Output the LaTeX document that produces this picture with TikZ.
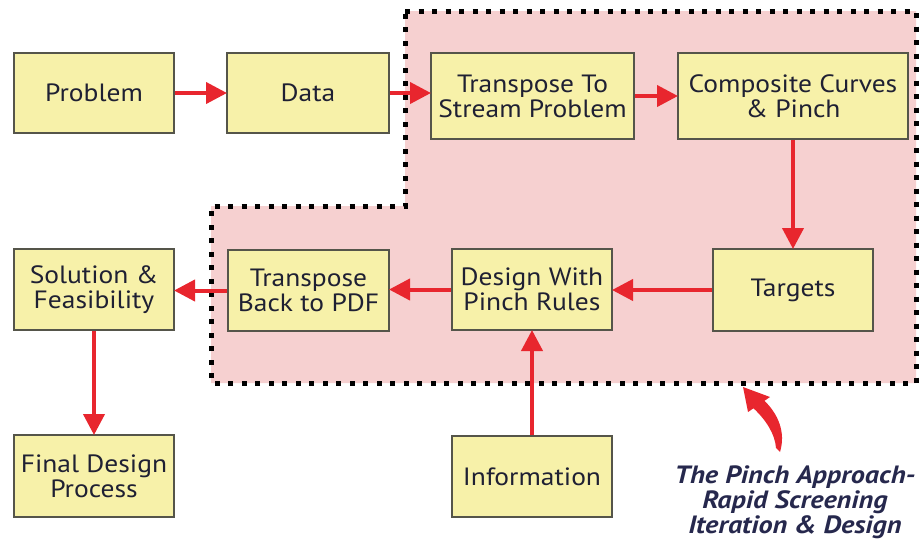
\documentclass[tikz,border=0pt]{standalone}
\usepackage{fontspec}
\setmainfont[FakeStretch=1.1]{PT Sans}
\newfontfamily\captionface[FakeStretch=1.13]{PT Sans}
\usetikzlibrary{arrows.meta}
\definecolor{boxfill}{HTML}{F7F1A9}
\definecolor{boxline}{HTML}{55554A}
\definecolor{ink}{HTML}{1F2033}
\definecolor{capink}{HTML}{26284D}
\definecolor{zonefill}{HTML}{F6D0D0}
\definecolor{flowred}{HTML}{E8262E}
\tikzset{
  stepbox/.style={draw=boxline, fill=boxfill, line width=2pt, text=ink,
    font=\fontsize{25}{25}\selectfont, align=center, inner sep=0pt},
  flow/.style={draw=flowred, line width=4pt,
    -{Triangle[length=21pt,width=21pt]}, shorten >=-1pt},
  zone/.style={fill=zonefill, draw=black, line width=5pt,
    dash pattern=on 5pt off 8.5pt},
}
\begin{document}
\begin{tikzpicture}[x=1pt,y=-1pt]
  \useasboundingbox (0,0) rectangle (920,542);

  % pinch-analysis zone
  \path[zone] (405,11) -- (916,11) -- (916,383) -- (211,383)
    -- (211,206) -- (405,206) -- cycle;

  % process steps
  \node[stepbox, minimum width=160pt, minimum height=80pt] (problem) at (94,93) {Problem};
  \node[stepbox, minimum width=162pt, minimum height=80pt] (data) at (308,93) {Data};
  \node[stepbox, minimum width=203pt, minimum height=86pt] (tto) at (532.5,96) {Transpose To\\Stream Problem};
  \node[stepbox, minimum width=230pt, minimum height=86pt] (comp) at (793,96) {Composite Curves\\\& Pinch};
  \node[stepbox, minimum width=160pt, minimum height=82pt] (targets) at (793,290) {Targets};
  \node[stepbox, minimum width=160pt, minimum height=81pt] (design) at (532,289.5) {Design With\\Pinch Rules};
  \node[stepbox, minimum width=161pt, minimum height=81pt] (tback) at (308.5,290.5) {Transpose\\Back to PDF};
  \node[stepbox, minimum width=160pt, minimum height=81pt] (sol) at (94,289.5) {Solution \&\\Feasibility};
  \node[stepbox, minimum width=160pt, minimum height=82pt] (final) at (94,476) {Final Design\\Process};
  \node[stepbox, minimum width=160pt, minimum height=81pt] (info) at (532,476.5) {Information};

  % flow connectors
  \draw[flow] (problem) -- (data);
  \draw[flow] (data) -- (data -| tto.west);
  \draw[flow] (tto) -- (comp);
  \draw[flow] (comp) -- (targets);
  \draw[flow] (targets) -- (targets -| design.east);
  \draw[flow] (design) -- (design -| tback.east);
  \draw[flow] (tback) -- (tback -| sol.east);
  \draw[flow] (sol) -- (final);
  \draw[flow] (info) -- (design);

  % brush arrow pointing at the zone
  \fill[flowred] (743,387) -- (770,397) -- (764.5,400.8)
    .. controls (778,414) and (786,432) .. (780,452)
    -- (776,448) .. controls (775,434) and (766,420) .. (753.5,408.3)
    -- (748,412) -- cycle;

  \node[text=capink, font=\captionface\fontsize{25}{25}\selectfont\bfseries\itshape,
    align=center, inner sep=0pt, anchor=north] (caption) at (795,466)
    {The Pinch Approach-\\Rapid Screening\\Iteration \& Design};
\end{tikzpicture}
\end{document}
